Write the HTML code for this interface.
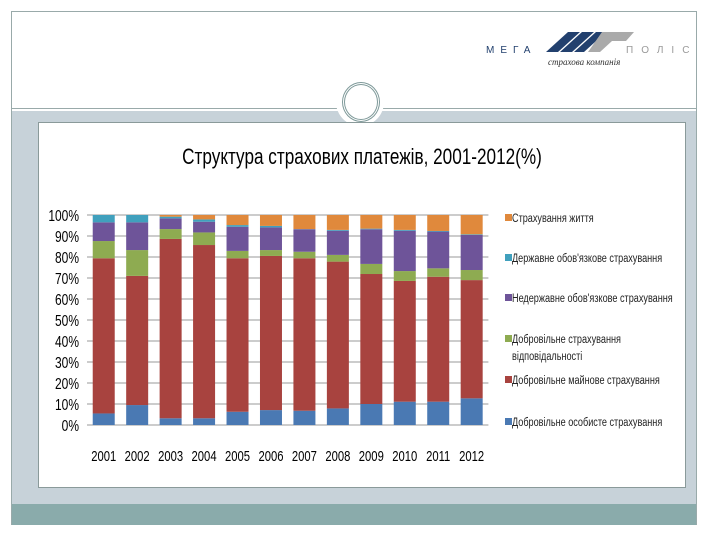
<!DOCTYPE html>
<html><head><meta charset="utf-8"><style>
body{margin:0;width:720px;height:540px;background:#fff;position:relative;overflow:hidden;font-family:"Liberation Sans",sans-serif}
div{position:absolute}
</style></head><body>
<div style="left:11px;top:11px;width:686px;height:514px;border:1px solid #9aa;box-sizing:border-box"></div>
<div style="left:12px;top:108px;width:684px;height:1px;background:#9aa"></div>
<div style="left:12px;top:111px;width:684px;height:393px;background:#c7d2d9"></div>
<div style="left:12px;top:504px;width:684px;height:21px;background:#8aabab"></div>
<div style="left:336px;top:78px;width:48px;height:48px;border-radius:50%;background:#fff"></div>
<div style="left:342px;top:82px;width:32px;height:34px;border-radius:50%;border:3px double #7f9a9a"></div>
<svg style="position:absolute;left:480px;top:20px" width="230" height="50">
<text x="6" y="33" font-size="10" letter-spacing="6" fill="#22406e" font-family="Liberation Sans">МЕГА</text>
<polygon points="66,32 78,32 100,12 88,12" fill="#22406e"/><polygon points="80,32 92,32 114,12 102,12" fill="#22406e"/><polygon points="94,32 104,32 126,12 116,12" fill="#22406e"/>
<polygon points="108,32 120,32 132,21 146,21 154,12 122,12" fill="#aaa"/>
<text x="146" y="33" font-size="10" letter-spacing="8" fill="#999" font-family="Liberation Sans">ПОЛІС</text>
<text x="68" y="45" font-size="9" font-style="italic" fill="#333" font-family="Liberation Serif">страхова компанія</text>
</svg>
<div style="left:38px;top:122px;width:648px;height:366px;background:#fff;border:1px solid #8a9a9a;box-sizing:border-box"></div>
<svg id="chart" style="position:absolute;left:0;top:0" width="720" height="540"></svg>
<script>
const years=['2001','2002','2003','2004','2005','2006','2007','2008','2009','2010','2011','2012'];
const personal=[5.5,9.5,3.2,3.2,6.3,7.1,6.8,7.9,10,11.1,11.1,12.7];
const property=[73.9,61.5,85.4,82.5,73.1,73.4,72.6,69.9,61.9,57.5,59.5,56.3];
const liability=[8.2,12.3,4.7,6,3.5,2.8,3.1,3.2,4.8,4.7,4,4.8];
const compulsory=[8.9,13.2,5.1,5.1,11.5,10.8,10.7,11.5,16.5,19.2,17.5,16.7];
const state=[3.5,3.5,0.8,1.1,0.8,0.7,0.1,0.4,0.3,0.4,0.3,0.3];
const life=[0,0,0.8,2.1,4.8,5.2,6.7,7.1,6.5,7.1,7.6,9.2];
const yTicks=['0%','10%','20%','30%','40%','50%','60%','70%','80%','90%','100%'];
const series=[personal,property,liability,compulsory,state,life];
const colors=['#4a79b3','#a8433f','#8eab51','#6e5499','#40a0bd','#e0893c'];
const legendLabels=[['Страхування життя'],['Державне обов\'язкове страхування'],['Недержавне обов\'язкове страхування'],['Добровільне страхування','відповідальності'],['Добровільне майнове страхування'],['Добровільне особисте страхування']];
const svg=document.getElementById('chart');const NS='http://www.w3.org/2000/svg';
const y0=425,y1=215,x0=87,pitch=33.45,bw=22;
const Y=v=>y0-(y0-y1)*v/100, X=i=>x0+pitch*(i+0.5);
function mk(t,a){const e=document.createElementNS(NS,t);for(const k in a)e.setAttribute(k,a[k]);svg.appendChild(e);return e;}
yTicks.forEach((t,i)=>{const v=i*10;
 const l=mk('line',{x1:x0,x2:x0+pitch*12,y1:Y(v),y2:Y(v),stroke:'#999','stroke-width':1});
 
 const tx=mk('text',{x:79,y:Y(v)+6,'text-anchor':'end','font-size':16,fill:'#000',transform:`translate(79 0) scale(0.75 1) translate(-79 0)`});
 tx.textContent=t;});
years.forEach((yr,i)=>{let acc=0;
 series.forEach((s,k)=>{const v=s[i];if(v<=0){return;}
  const r=mk('rect',{x:X(i)-bw/2,y:Y(acc+v),width:bw,height:Y(acc)-Y(acc+v),fill:colors[k]});
  acc+=v;});
 const t=mk('text',{x:X(i),y:461,'text-anchor':'middle','font-size':15,fill:'#000',transform:`translate(${X(i)} 0) scale(0.75 1) translate(${-X(i)} 0)`});
 t.textContent=yr;});
const ly=[219,259,299,340,381,423];
legendLabels.forEach((lab,i)=>{const c=colors[5-i];
 const r=mk('rect',{x:505,y:ly[i]-5,width:7,height:7,fill:c});
 lab.forEach((ln,j)=>{const t=mk('text',{x:512,y:ly[i]+3+j*17,'font-size':12,fill:'#222',transform:`translate(512 0) scale(0.76 1) translate(-512 0)`});
 t.textContent=ln;});});
const ti=mk('text',{x:362,y:164,'text-anchor':'middle','font-size':22,fill:'#000',transform:'translate(362 0) scale(0.78 1) translate(-362 0)'});
ti.textContent='Структура страхових платежів, 2001-2012(%)';
</script>
</body></html>
